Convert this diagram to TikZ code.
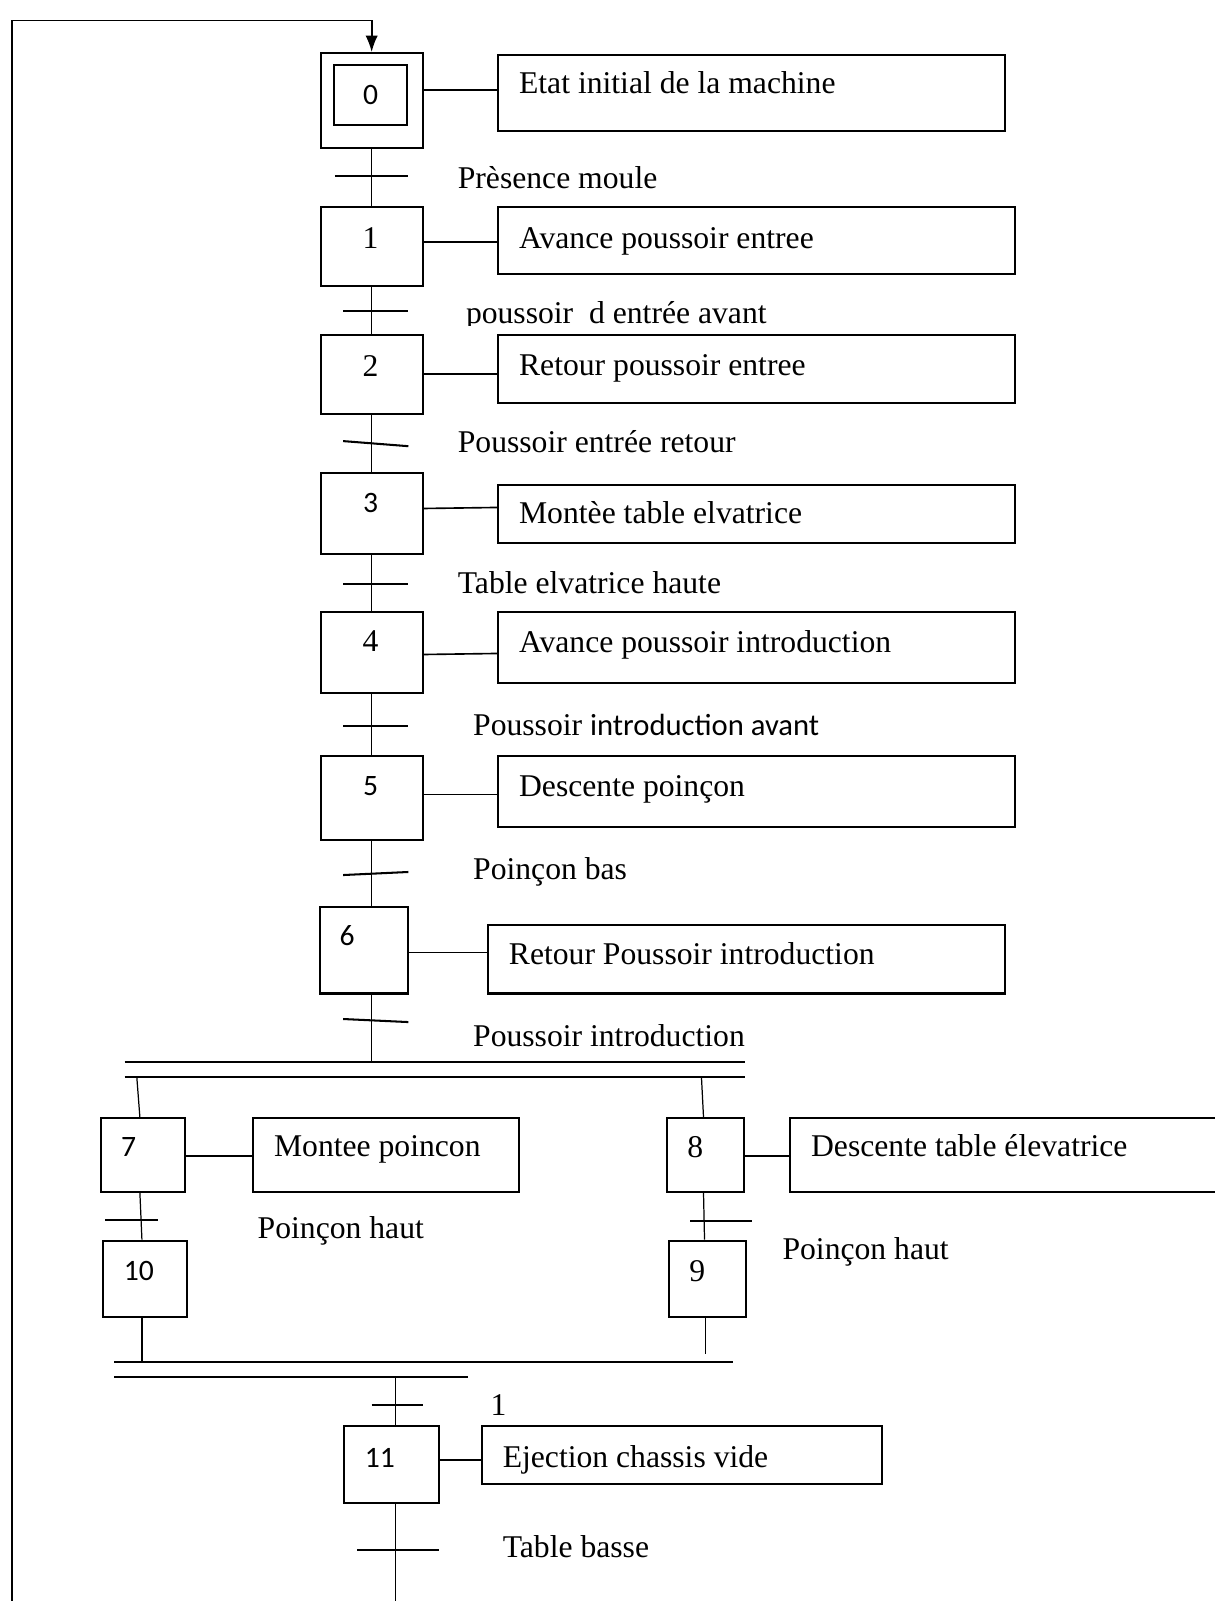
\documentclass[tikz,border=0pt]{standalone}
\usepackage{fontspec}
\setmainfont{Liberation Serif}
\newfontfamily\calfont{Carlito}
\usetikzlibrary{arrows.meta,calc}
\begin{document}
\begin{tikzpicture}[x=0.5pt,y=-0.5pt,
  stepbox/.style={draw,line width=1pt,inner sep=0pt},
  actbox/.style={draw,line width=1pt,inner sep=0pt},
  link/.style={line width=0.6pt},
  tick/.style={line width=1pt},
  bar/.style={line width=1pt},
  txt/.style={anchor=base west,inner sep=0pt,font=\fontsize{15.5}{18}\selectfont},
  nser/.style={inner sep=0pt,font=\fontsize{15.5}{18}\selectfont},
  nsan/.style={inner sep=0pt,font=\calfont\fontsize{14.5}{17}\selectfont}]
\useasboundingbox (0,0) rectangle (1189,1568);

% ---- step boxes
\node[stepbox,minimum width=50pt,minimum height=46.5pt] (s0) at (364,98.5) {};
\node[stepbox,minimum width=36pt,minimum height=29pt] (s0i) at (363,93) {};
\node[stepbox,minimum width=50pt,minimum height=38.5pt] (s1) at (364,241.5) {};
\node[stepbox,minimum width=50pt,minimum height=38.5pt] (s2) at (364,366.5) {};
\node[stepbox,minimum width=50pt,minimum height=40pt] (s3) at (364,503) {};
\node[stepbox,minimum width=50pt,minimum height=40pt] (s4) at (364,639) {};
\node[stepbox,minimum width=50pt,minimum height=41.5pt] (s5) at (364,781.5) {};
\node[stepbox,minimum width=43.5pt,minimum height=42.5pt] (s6) at (356.5,930.5) {};
\node[stepbox,minimum width=41pt,minimum height=36pt] (s7) at (140,1131) {};
\node[stepbox,minimum width=38pt,minimum height=36pt] (s8) at (691,1131) {};
\node[stepbox,minimum width=41pt,minimum height=37.5pt] (s10) at (142,1252.5) {};
\node[stepbox,minimum width=38pt,minimum height=37.5pt] (s9) at (693,1252.5) {};
\node[stepbox,minimum width=46.5pt,minimum height=37.5pt] (s11) at (383.5,1434.5) {};

% ---- step numbers
\node[nsan] (n0) at (363,93) {0};
\node[nser] (n1) at (363,233) {1};
\node[nser] (n2) at (363,358) {2};
\node[nsan] (n3) at (363,493) {3};
\node[nser] (n4) at (363,628) {4};
\node[nsan] (n5) at (363,770) {5};
\node[nsan] (n6) at (340,916) {6};
\node[nsan] (n7) at (126,1123) {7};
\node[nser] (n8) at (681,1123) {8};
\node[nsan] (n10) at (136,1245) {10};
\node[nser] (n9) at (683,1245) {9};
\node[nsan] (n11) at (372,1428) {11};

% ---- action boxes
\node[actbox,minimum width=248pt,minimum height=37pt] (a0) at (736,91) {};
\node[actbox,minimum width=253pt,minimum height=32.5pt] (a1) at (741,235.5) {};
\node[actbox,minimum width=253pt,minimum height=33.5pt] (a2) at (741,361.5) {};
\node[actbox,minimum width=253pt,minimum height=28.5pt] (a3) at (741,503.5) {};
\node[actbox,minimum width=253pt,minimum height=35pt] (a4) at (741,634) {};
\node[actbox,minimum width=253pt,minimum height=35pt] (a5) at (741,775) {};
\node[actbox,minimum width=253pt,minimum height=33.5pt] (a6) at (731,939.5) {};
\node[actbox,minimum width=130pt,minimum height=36pt] (a7) at (378,1131) {};
\node[actbox,minimum width=209pt,minimum height=36pt] (a8) at (983,1131) {};
\node[actbox,minimum width=196pt,minimum height=28pt] (a11) at (668,1425) {};

% ---- action texts
\node[txt] (ta0) at (508,92) {Etat initial de la machine};
\node[txt] (ta1) at (508,243) {Avance poussoir entree};
\node[txt] (ta2) at (508,368) {Retour poussoir entree};
\node[txt] (ta3) at (508,513) {Montèe table elvatrice};
\node[txt] (ta4) at (508,639) {Avance poussoir introduction};
\node[txt] (ta5) at (508,780) {Descente poinçon};
\node[txt] (ta6) at (498,945) {Retour Poussoir introduction};
\node[txt] (ta7) at (268,1133) {Montee poincon};
\node[txt] (ta8) at (794,1133) {Descente table élevatrice};
\node[txt] (ta11) at (492,1437) {Ejection chassis vide};

% ---- action connectors
\draw[link,line width=0.8pt] (s0.east |- 0,88) -- (a0.west |- 0,88);
\draw[link,line width=0.8pt] (s1.east |- 0,237) -- (a1.west |- 0,237);
\draw[link,line width=0.8pt] (s2.east |- 0,366) -- (a2.west |- 0,366);
\draw[link,line width=0.8pt] (s3.east |- 0,498) -- (a3.west |- 0,497);
\draw[link,line width=0.8pt] (s4.east |- 0,641) -- (a4.west |- 0,640);
\draw[link,line width=0.8pt] (s5.east |- 0,778) -- (a5.west |- 0,778);
\draw[link,line width=0.8pt] (s6.east |- 0,933) -- (a6.west |- 0,933);
\draw[link,line width=0.8pt] (s7.east |- 0,1132) -- (a7.west |- 0,1132);
\draw[link,line width=0.8pt] (s8.east |- 0,1132) -- (a8.west |- 0,1132);
\draw[link,line width=0.8pt] (s11.east |- 0,1430) -- (a11.west |- 0,1430);

% ---- sequence links
\draw[link] (s0.south) -- (s1.north);
\draw[link] (s1.south) -- (s2.north);
\draw[link] (s2.south) -- (s3.north);
\draw[link] (s3.south) -- (s4.north);
\draw[link] (s4.south) -- (s5.north);
\draw[link] (s5.south) -- (s5.south |- s6.north);

% ---- divergence / convergence bars
\coordinate (dv) at (364,1040);
\coordinate (dvL) at (134,1055);
\coordinate (dvR) at (687,1055);
\coordinate (cvL) at (139,1334);
\coordinate (cvR) at (691,1326);
\coordinate (cv) at (387,1349);
\coordinate (endB) at (387,1568);
\coordinate (loopB) at (12,1568);
\coordinate (loopT) at (12,20);
\draw[bar] (122,1040) -- (730,1040);
\draw[bar] (122,1055) -- (730,1055);
\draw[bar] (112,1334) -- (718,1334);
\draw[bar] (112,1349) -- (458,1349);

\draw[link] (s6.south -| s5.south) -- (dv);
\draw[link] (dvL) -- ($(s7.north)+(-3,0)$);
\draw[link] (dvR) -- ($(s8.north)+(-2,0)$);
\draw[link] ($(s7.south)+(-3,0)$) -- ($(s10.north)+(-3,0)$);
\draw[link] ($(s8.south)+(-2,0)$) -- ($(s9.north)+(-3,0)$);
\draw[link] ($(s10.south)+(-3,0)$) -- (cvL);
\draw[link] ($(s9.south)+(-2,0)$) -- (cvR);
\draw[link] (cv) -- ($(s11.north)+(3.5,0)$);
\draw[link] ($(s11.south)+(3.5,0)$) -- (endB);

% ---- return loop
\draw[line width=0.9pt,-{Latex[length=8pt,width=6pt]}] (loopB) -- (loopT) -- (loopT -| s0.north) -- (s0.north);

% ---- transition ticks
\draw[tick] (328,172) -- (400,172);
\draw[tick] (336,305) -- (400,305);
\draw[tick] (336,432) -- (400,437);
\draw[tick] (336,572) -- (400,572);
\draw[tick] (336,711) -- (400,711);
\draw[tick] (336,857) -- (400,854);
\draw[tick] (336,998) -- (400,1001);
\draw[tick] (103,1195) -- (155,1195);
\draw[tick] (676,1196) -- (736,1196);
\draw[tick] (364,1376) -- (414,1376);
\draw[tick] (350,1518) -- (430,1518);

% ---- transition labels
\node[txt] (r0) at (448,185) {Prèsence moule};
\begin{scope}
\clip (440,280) rectangle (800,319);
\node[txt] (r1) at (456,317) {poussoir\ \ d entrée avant};
\end{scope}
\node[txt] (r2) at (448,443) {Poussoir entrée retour};
\node[txt] (r3) at (448,581) {Table elvatrice haute};
\node[txt] (r4) at (463,720) {Poussoir {\calfont\fontsize{15}{18}\selectfont introduction avant}};
\node[txt] (r5) at (463,861) {Poinçon bas};
\node[txt] (r6) at (463,1025) {Poussoir introduction};
\node[txt] (r7) at (252,1213) {Poinçon haut};
\node[txt] (r8) at (766,1234) {Poinçon haut};
\node[txt] (r9) at (480,1386) {1};
\node[txt] (r10) at (492,1525) {Table basse};
\end{tikzpicture}
\end{document}
